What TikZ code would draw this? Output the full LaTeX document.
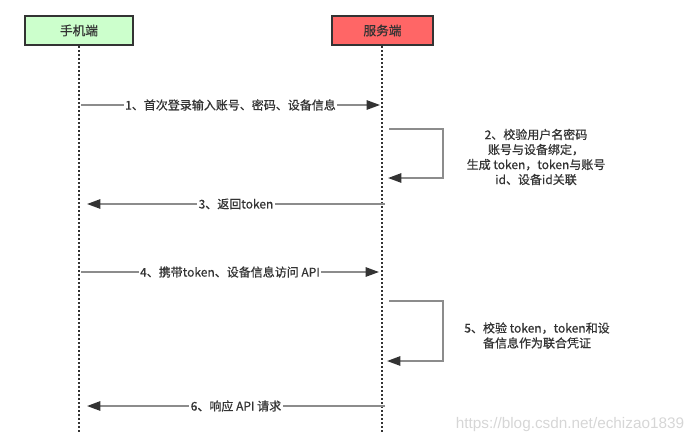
\documentclass[tikz,border=0pt]{standalone}
\usepackage{fontspec}
\setmainfont{Noto Sans CJK SC}[FakeBold=0.6]
\newfontfamily\markfont{Liberation Sans}
\usetikzlibrary{arrows.meta}
\definecolor{phonegreen}{HTML}{CCFFCC}
\definecolor{serverred}{HTML}{FF6666}
\definecolor{msggray}{HTML}{8C8C8C}
\definecolor{tipdark}{HTML}{333333}
\newcommand{\boxline}{1.5pt}

\begin{document}
\begin{tikzpicture}[x=0.75pt, y=-0.75pt,
    msg/.style={draw=msggray, line width=1.3pt, -{Triangle[length=10pt,width=7pt,color=tipdark]}},
    lbl/.style={fill=white, text=tipdark, inner sep=1pt, font=\fontsize{9}{11}\selectfont},
    note/.style={text=tipdark, align=center, font=\fontsize{9}{11.25}\selectfont},
    life/.style={draw=tipdark, line width=1.5pt, dash pattern=on 1.5pt off 1.5pt}]
    \useasboundingbox (0,0) rectangle (699,443);
    % actors
        \node (phone) at (79,30.5) [draw=tipdark, fill=phonegreen, line width=\boxline, minimum width=81pt, minimum height=21.75pt, text=tipdark, font=\fontsize{9.5}{11}\selectfont] {手机端};
        \node (server) at (382.5,30.5) [draw=tipdark, fill=serverred, line width=\boxline, minimum width=75.75pt, minimum height=21.75pt, text=tipdark, font=\fontsize{9.5}{11}\selectfont] {服务端};
        \coordinate (phoneend) at (79,433);
        \coordinate (serverend) at (382,433);

        \draw[life] (phone.south) to (phoneend);
        \draw[life] (server.south -| serverend) to (serverend);

    % messages
        \coordinate (m1s) at (81,105);   \coordinate (m1e) at (380,105);
        \coordinate (s2s) at (389,129);  \coordinate (s2e) at (388,178);
        \coordinate (m3s) at (385,204);  \coordinate (m3e) at (87,204);
        \coordinate (m4s) at (81,272);   \coordinate (m4e) at (379,272);
        \coordinate (s5s) at (389,301);  \coordinate (s5e) at (387,361);
        \coordinate (m6s) at (385,406);  \coordinate (m6e) at (87,406);

        \draw[msg] (m1s) to node[lbl] {1、首次登录输入账号、密码、设备信息} (m1e);
        \draw[msg] (s2s) -- ++(54,0) |- (s2e);
        \draw[msg] (m3s) to node[lbl] {3、返回token} (m3e);
        \draw[msg] (m4s) to node[lbl] {4、携带token、设备信息访问 API} (m4e);
        \draw[msg] (s5s) -- ++(54,0) |- (s5e);
        \draw[msg] (m6s) to node[lbl] {6、响应 API 请求} (m6e);

    % notes
    \node (t2) at (536,157) [note] {2、校验用户名密码\\账号与设备绑定，\\生成 token，token与账号\\id、设备id关联};
    \node (t5) at (537,335.5) [note] {5、校验 token，token和设\\备信息作为联合凭证};
    \node (mark) at (570,425) [text=black!16, font=\markfont\fontsize{11.5}{13}\selectfont] {https://blog.csdn.net/echizao1839};
  \end{tikzpicture}
\end{document}
